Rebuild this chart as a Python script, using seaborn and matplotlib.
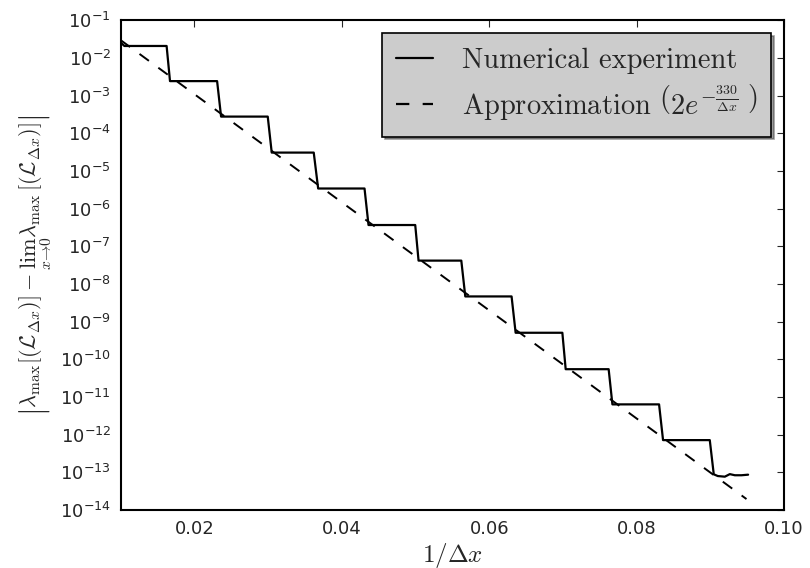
import numpy as np
import pandas as pd
import matplotlib
matplotlib.use("Agg")
import matplotlib.pyplot as plt
import seaborn as sns

# staircase: each level runs from step_start to step_end
step_start = [0.0105, 0.01669, 0.02362, 0.03049, 0.03679, 0.04362, 0.05041,
              0.05675, 0.06358, 0.07037, 0.07671, 0.08358, 0.09046]
step_end = [0.01623, 0.02308, 0.02995, 0.03619, 0.04308, 0.04996, 0.05621,
            0.06303, 0.06992, 0.07620, 0.08304, 0.08992, 0.09046]
levels = [2.1e-2, 2.45e-3, 2.8e-4, 3.1e-5, 3.45e-6, 3.7e-7, 4.2e-8,
          4.7e-9, 5.1e-10, 5.5e-11, 6.4e-12, 7.2e-13, 8.9e-14]
start_point = (0.0100, 2.6e-2)
tail_x = [0.09101, 0.09196, 0.09264, 0.09332, 0.09422, 0.09512]
tail_y = [8.0e-14, 7.7e-14, 9.0e-14, 8.4e-14, 8.4e-14, 8.7e-14]

# dashed approximation line, end points
approx_x = [0.0100, 0.0949]
approx_y = [3.0e-2, 1.96e-14]

xs = [start_point[0]]
ys = [start_point[1]]
for a, b, v in zip(step_start, step_end, levels):
    xs += [a, b]
    ys += [v, v]
xs += tail_x
ys += tail_y
num = pd.DataFrame({'x': xs, 'y': ys})
approx = pd.DataFrame({'x': approx_x, 'y': approx_y})

sns.set_style("white")
plt.rcParams['axes.unicode_minus'] = False
plt.rcParams['font.family'] = ['DejaVu Sans']

fig = plt.figure(figsize=(8.1, 5.68), dpi=100)
ax = fig.add_axes([0.149, 0.102, 0.819, 0.862])

sns.lineplot(data=num, x='x', y='y', ax=ax, color='k', lw=1.6, sort=False,
             estimator=None, label='Numerical experiment')
sns.lineplot(data=approx, x='x', y='y', ax=ax, color='k', lw=1.4, sort=False,
             estimator=None, dashes=False,
             label=r'Approximation $\left(2e^{-\frac{330}{\Delta x}}\genfrac{}{}{0}{}{\,}{\,}\right)$')
ax.lines[1].set_dashes((6, 6))

ax.set_yscale('log')
ax.set_xlim(0.01, 0.10)
ax.set_ylim(1e-14, 1e-1)
ax.set_xticks([0.02, 0.04, 0.06, 0.08, 0.10])
ax.set_xticklabels(['0.02', '0.04', '0.06', '0.08', '0.10'])
ax.set_yticks([10.0 ** k for k in range(-14, 0)])
ax.minorticks_off()
ax.tick_params(which='major', direction='in', length=5, width=0.8,
               top=True, right=True, labelsize=13, pad=7)

for s in ax.spines.values():
    s.set_color('k')
    s.set_linewidth(1.5)

ax.set_xlabel(r'$1/\Delta x$', fontsize=18, math_fontfamily='cm', labelpad=2)
ax.set_ylabel(r'$\left|\lambda_{\mathrm{max}}[(\mathcal{L}_{\Delta x})]-\lim_{x\to 0}\lambda_{\mathrm{max}}[(\mathcal{L}_{\Delta x})]\right|$',
              fontsize=16, math_fontfamily='cm', labelpad=5)

leg = ax.legend(loc='upper right', fancybox=False, shadow=True, frameon=True,
                facecolor='#cccccc', edgecolor='k', framealpha=1,
                prop={'family': 'cmr10', 'size': 20.5, 'math_fontfamily': 'cm'},
                handlelength=1.3, handletextpad=1.0, borderpad=0.5,
                borderaxespad=0.45, labelspacing=0.3)
leg.get_frame().set_linewidth(1.2)
for h in leg.get_lines():
    h.set_linewidth(1.6)
leg.get_lines()[1].set_dashes((6, 6))

fig.savefig('out.png', dpi=100)
